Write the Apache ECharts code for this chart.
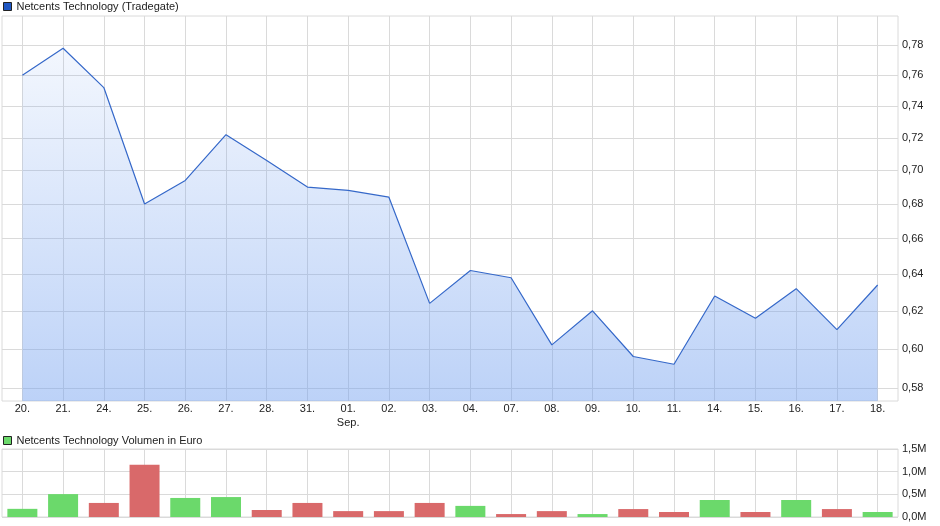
<!DOCTYPE html>
<html>
<head>
<meta charset="utf-8">
<script src="https://cdn.jsdelivr.net/npm/echarts@6/dist/echarts.min.js"></script>
<style>
html,body{margin:0;padding:0;background:#fff;}
#chart{width:940px;height:526px;}
</style>
</head>
<body>
<div id="chart"></div>
<script>
// ---- data ----
const categories = ['20.','21.','24.','25.','26.','27.','28.','31.','01.','02.','03.','04.','07.','08.','09.','10.','11.','14.','15.','16.','17.','18.'];
const monthLabels = ['','','','','','','','','Sep.','','','','','','','','','','','','',''];
const prices = [0.760,0.778,0.752,0.680,0.694,0.722,0.706,0.690,0.688,0.684,0.624,0.642,0.638,0.602,0.620,0.596,0.592,0.628,0.616,0.632,0.610,0.634];
const volumes = [180000,505000,310000,1150000,420000,440000,155000,310000,130000,130000,310000,245000,65000,130000,65000,175000,110000,375000,110000,375000,175000,110000];
const priceTicks = [0.58,0.60,0.62,0.64,0.66,0.68,0.70,0.72,0.74,0.76,0.78];
const volumeTicks = [0, 500000, 1000000, 1500000];
const priceName = 'Netcents Technology (Tradegate)';
const volumeName = 'Netcents Technology Volumen in Euro';

const UP = '#6bd96b', DOWN = '#d9696a';
const volumeData = volumes.map((v, i) => ({
  value: v,
  itemStyle: { color: (i === 0 || prices[i] >= prices[i - 1]) ? UP : DOWN }
}));

const gridColor = '#dadada';
const txt = { color: '#222', fontFamily: 'Liberation Sans, Arial, sans-serif', fontSize: 11 };

const chart = echarts.init(document.getElementById('chart'), null, { renderer: 'canvas' });
chart.setOption({
  animation: false,
  backgroundColor: '#fff',
  legend: [
    { data: [priceName], left: 3, top: 1, itemWidth: 8, itemHeight: 8, icon: 'rect', itemGap: 4,
      textStyle: txt, itemStyle: { color: '#1f57c3', borderColor: '#222', borderWidth: 1 }, selectedMode: false, padding: 0 },
    { data: [volumeName], left: 3, top: 435, itemWidth: 8, itemHeight: 8, icon: 'rect',
      textStyle: txt, itemStyle: { color: UP, borderColor: '#222', borderWidth: 1 }, selectedMode: false, padding: 0 }
  ],
  grid: [
    { left: 2, right: 42, top: 16, height: 385, show: true, borderColor: gridColor, borderWidth: 1 },
    { left: 2, right: 42, top: 449, height: 68, show: true, borderColor: gridColor, borderWidth: 1 }
  ],
  xAxis: [
    { type: 'category', gridIndex: 0, data: categories, boundaryGap: true,
      axisLine: { show: false }, axisTick: { show: false, alignWithLabel: true },
      splitLine: { show: true, alignWithLabel: true, lineStyle: { color: gridColor } },
      axisLabel: Object.assign({}, txt, { margin: 1, interval: 0, lineHeight: 14,
        formatter: (v, i) => monthLabels[i] ? v + '\n' + monthLabels[i] : v }) },
    { type: 'category', gridIndex: 1, data: categories, boundaryGap: true,
      axisLine: { show: false }, axisTick: { show: false, alignWithLabel: true },
      splitLine: { show: true, alignWithLabel: true, lineStyle: { color: gridColor } },
      axisLabel: { show: false } }
  ],
  yAxis: [
    { type: 'log', gridIndex: 0, position: 'right', min: 0.5735, max: 0.80, logBase: 10,
      axisLine: { show: false },
      axisTick: { show: false, customValues: priceTicks },
      splitLine: { show: true, lineStyle: { color: gridColor } },
      axisLabel: Object.assign({}, txt, { margin: 4, customValues: priceTicks,
        formatter: v => Number(v).toFixed(2).replace('.', ',') }) },
    { type: 'value', gridIndex: 1, position: 'right', min: 0, max: 1500000, interval: 500000,
      axisLine: { show: false }, axisTick: { show: false },
      splitLine: { show: true, lineStyle: { color: gridColor } },
      axisLabel: Object.assign({}, txt, { margin: 4,
        formatter: v => (v / 1e6).toFixed(1).replace('.', ',') + 'M' }) }
  ],
  series: [
    { name: priceName, type: 'line', xAxisIndex: 0, yAxisIndex: 0, data: prices,
      showSymbol: false, symbol: 'none',
      lineStyle: { color: '#3568c9', width: 1.2 },
      itemStyle: { color: '#1f57c3' },
      areaStyle: {
        origin: 'start', opacity: 1,
        color: new echarts.graphic.LinearGradient(0, 16, 0, 401, [
          { offset: 0, color: 'rgba(113,159,239,0.05)' },
          { offset: 1, color: 'rgba(113,159,239,0.47)' }
        ], true)
      } },
    { name: volumeName, type: 'bar', xAxisIndex: 1, yAxisIndex: 1, data: volumeData,
      barWidth: 30, itemStyle: { color: UP } }
  ]
});
</script>
</body>
</html>
